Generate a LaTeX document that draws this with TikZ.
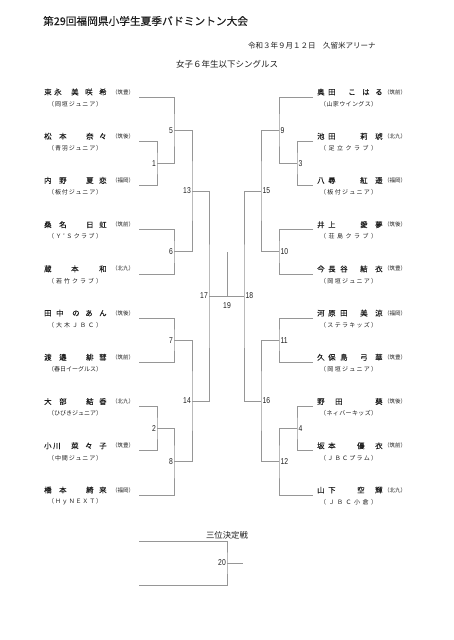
\documentclass[tikz,border=0pt]{standalone}
\usepackage{fontspec}
\setmainfont{Noto Sans CJK JP}
\newfontfamily\namefont{Noto Sans CJK JP}[FakeBold=0.2]
\newfontfamily\numfont{Liberation Sans}
\usepackage{graphicx}
\definecolor{linegray}{RGB}{150,150,150}
\definecolor{txt}{RGB}{30,30,30}
\makeatletter
\def\dist@loop#1#2\dist@end{#1\ifx\relax#2\relax\else\hfill\dist@loop#2\dist@end\fi}
\newcommand\distr[2]{\makebox[#1][s]{\dist@loop#2\dist@end}}
\makeatother
\newcommand\ch[2]{\makebox[0pt][l]{\hspace*{#1pt}#2}}
\tikzset{
  ln/.style={draw=linegray, line width=0.8pt},
  nm/.style={anchor=west, inner sep=0pt, font=\namefont\fontsize{7.4}{8}\selectfont, text=txt},
  aff/.style={anchor=west, inner sep=0pt, font=\fontsize{5.5}{6}\selectfont, text=txt},
  club/.style={anchor=west, inner sep=0pt, font=\fontsize{6}{7}\selectfont, text=txt},
  lblL/.style={anchor=east, inner sep=0pt, xshift=-1pt, font=\numfont\fontsize{8.5}{9}\selectfont, text=txt},
  lblR/.style={anchor=west, inner sep=0pt, xshift=1.5pt, font=\numfont\fontsize{8.5}{9}\selectfont, text=txt},
}
\newcommand\num[1]{\scalebox{0.8}[1]{#1}}
\begin{document}
\begin{tikzpicture}[x=1pt, y=-1pt]
\useasboundingbox (0,0) rectangle (453,640);
\fill[white] (0,0) rectangle (453,640);

% titles
\node[anchor=west, inner sep=0pt, font=\namefont\fontsize{10.7}{12}\selectfont, text=txt] (title) at (43,21) {第29回福岡県小学生夏季バドミントン大会};
\node[anchor=west, inner sep=0pt, font=\fontsize{7.5}{8}\selectfont, text=txt] (date) at (248,46) {令和３年９月１２日　久留米アリーナ};
\node[inner sep=0pt, font=\fontsize{8.5}{9}\selectfont, text=txt] (event) at (227,64) {女子６年生以下シングルス};

% y positions
\def\yA{97}\def\yB{141.2}\def\yC{185.4}\def\yD{229.7}\def\yE{273.9}
\def\yF{318.1}\def\yG{362.3}\def\yH{406.5}\def\yI{450.8}\def\yJ{495}
\def\mA{163.3}\def\mE{130.15}\def\mF{251.8}\def\mM{190.98}
\def\mG{340.2}\def\mB{428.65}\def\mH{461.8}\def\mN{401}\def\mQ{296}

% left player line ends
\coordinate (L1) at (139,\yA); \coordinate (L2) at (139,\yB); \coordinate (L3) at (139,\yC);
\coordinate (L4) at (139,\yD); \coordinate (L5) at (139,\yE); \coordinate (L6) at (139,\yF);
\coordinate (L7) at (139,\yG); \coordinate (L8) at (139,\yH); \coordinate (L9) at (139,\yI);
\coordinate (L10) at (139,\yJ);
% right player line ends
\coordinate (R1) at (313,\yA); \coordinate (R2) at (313,\yB); \coordinate (R3) at (313,\yC);
\coordinate (R4) at (313,\yD); \coordinate (R5) at (313,\yE); \coordinate (R6) at (313,\yF);
\coordinate (R7) at (313,\yG); \coordinate (R8) at (313,\yH); \coordinate (R9) at (313,\yI);
\coordinate (R10) at (313,\yJ);

% left junctions
\coordinate (J1) at (157,\mA); \coordinate (J2) at (157,\mB);
\coordinate (J5) at (174,\mE); \coordinate (J6) at (174,\mF);
\coordinate (J7) at (174,\mG); \coordinate (J8) at (174,\mH);
\coordinate (J13) at (192,\mM); \coordinate (J14) at (192,\mN);
\coordinate (J17) at (209,\mQ);
% right junctions
\coordinate (J3) at (297,\mA); \coordinate (J4) at (297,\mB);
\coordinate (J9) at (279,\mE); \coordinate (J10) at (279,\mF);
\coordinate (J11) at (279,\mG); \coordinate (J12) at (279,\mH);
\coordinate (J15) at (261,\mM); \coordinate (J16) at (261,\mN);
\coordinate (J18) at (244,\mQ);
% final
\coordinate (J19) at (227,\mQ); \coordinate (W19) at (227,252);

% left bracket
\draw[ln] (L2) -| (J1) |- (L3);
\draw[ln] (L1) -| (J5) |- (J1);
\draw[ln] (L4) -| (J6) |- (L5);
\draw[ln] (J5) -| (J13) |- (J6);
\draw[ln] (L6) -| (J7) |- (L7);
\draw[ln] (L8) -| (J2) |- (L9);
\draw[ln] (J2) -| (J8) |- (L10);
\draw[ln] (J7) -| (J14) |- (J8);
\draw[ln] (J13) -| (J17) |- (J14);
% right bracket
\draw[ln] (R2) -| (J3) |- (R3);
\draw[ln] (R1) -| (J9) |- (J3);
\draw[ln] (R4) -| (J10) |- (R5);
\draw[ln] (J9) -| (J15) |- (J10);
\draw[ln] (R6) -| (J11) |- (R7);
\draw[ln] (R8) -| (J4) |- (R9);
\draw[ln] (J4) -| (J12) |- (R10);
\draw[ln] (J11) -| (J16) |- (J12);
\draw[ln] (J15) -| (J18) |- (J16);
% final
\draw[ln] (J17) -- (J18);
\draw[ln] (J19) -- (W19);

% match labels
\node[lblL] (n1) at (J1) {\num{1}};
\node[lblL] (n2) at (J2) {\num{2}};
\node[lblL] (n5) at (J5) {\num{5}};
\node[lblL] (n6) at (J6) {\num{6}};
\node[lblL] (n7) at (J7) {\num{7}};
\node[lblL] (n8) at (J8) {\num{8}};
\node[lblL] (n13) at (J13) {\num{13}};
\node[lblL] (n14) at (J14) {\num{14}};
\node[lblL] (n17) at (J17) {\num{17}};
\node[lblR] (n3) at (J3) {\num{3}};
\node[lblR] (n4) at (J4) {\num{4}};
\node[lblR] (n9) at (J9) {\num{9}};
\node[lblR] (n10) at (J10) {\num{10}};
\node[lblR] (n11) at (J11) {\num{11}};
\node[lblR] (n12) at (J12) {\num{12}};
\node[lblR] (n15) at (J15) {\num{15}};
\node[lblR] (n16) at (J16) {\num{16}};
\node[lblR] (n18) at (J18) {\num{18}};
\node[inner sep=0pt, font=\numfont\fontsize{8.5}{9}\selectfont, text=txt] (n19) at (227,305.5) {\num{19}};

% left players
\node[nm] (p1) at (44,\yA-5) {\ch{0}{束}\ch{10}{永}\ch{27}{美}\ch{41}{咲}\ch{55}{希}\hspace*{62pt}};
\node[aff] (a1) at (112,\yA-5) {（筑豊）};
\node[club] (c1) at (48,\yA+7) {\distr{54pt}{（岡垣ジュニア）}};

\node[nm] (p2) at (44,\yB-5) {\ch{0}{松}\ch{15}{本}\ch{42}{奈}\ch{55}{々}\hspace*{62pt}};
\node[aff] (a2) at (112,\yB-5) {（筑後）};
\node[club] (c2) at (48,\yB+7) {\distr{54pt}{（青羽ジュニア）}};

\node[nm] (p3) at (44,\yC-5) {\ch{0}{内}\ch{15}{野}\ch{42}{夏}\ch{55}{恋}\hspace*{62pt}};
\node[aff] (a3) at (112,\yC-5) {（福岡）};
\node[club] (c3) at (48,\yC+7) {\distr{54pt}{（板付ジュニア）}};

\node[nm] (p4) at (44,\yD-5) {\ch{0}{桑}\ch{15}{名}\ch{42}{日}\ch{55}{虹}\hspace*{62pt}};
\node[aff] (a4) at (112,\yD-5) {（筑前）};
\node[club] (c4) at (48,\yD+7) {\distr{54pt}{（Ｙ’Ｓクラブ）}};

\node[nm] (p5) at (44,\yE-5) {\ch{0}{蔵}\ch{27}{本}\ch{55}{和}\hspace*{62pt}};
\node[aff] (a5) at (112,\yE-5) {（北九）};
\node[club] (c5) at (48,\yE+7) {\distr{54pt}{（若竹クラブ）}};

\node[nm] (p6) at (44,\yF-5) {\ch{0}{田}\ch{12}{中}\ch{28}{の}\ch{41}{あ}\ch{55}{ん}\hspace*{62pt}};
\node[aff] (a6) at (112,\yF-5) {（筑後）};
\node[club] (c6) at (48,\yF+7) {\distr{54pt}{（大木ＪＢＣ）}};

\node[nm] (p7) at (44,\yG-5) {\ch{0}{渡}\ch{15}{邉}\ch{42}{緋}\ch{55}{彗}\hspace*{62pt}};
\node[aff] (a7) at (112,\yG-5) {（筑前）};
\node[club] (c7) at (48,\yG+7) {\distr{54pt}{（春日イーグルス）}};

\node[nm] (p8) at (44,\yH-5) {\ch{0}{大}\ch{15}{部}\ch{42}{結}\ch{55}{香}\hspace*{62pt}};
\node[aff] (a8) at (112,\yH-5) {（北九）};
\node[club] (c8) at (48,\yH+7) {\distr{54pt}{（ひびきジュニア）}};

\node[nm] (p9) at (44,\yI-5) {\ch{0}{小}\ch{9}{川}\ch{27}{菜}\ch{41}{々}\ch{55}{子}\hspace*{62pt}};
\node[aff] (a9) at (112,\yI-5) {（筑豊）};
\node[club] (c9) at (48,\yI+7) {\distr{54pt}{（中間ジュニア）}};

\node[nm] (p10) at (44,\yJ-5) {\ch{0}{橋}\ch{15}{本}\ch{42}{綺}\ch{55}{来}\hspace*{62pt}};
\node[aff] (a10) at (112,\yJ-5) {（福岡）};
\node[club] (c10) at (48,\yJ+7) {\distr{54pt}{（ＨｙＮＥＸＴ）}};

% right players
\node[nm] (q1) at (317,\yA-5) {\ch{0}{奥}\ch{11}{田}\ch{31}{こ}\ch{45}{は}\ch{58}{る}\hspace*{65pt}};
\node[aff] (b1) at (384,\yA-5) {（筑前）};
\node[club] (d1) at (320,\yA+7) {\distr{57pt}{（山家ウイングス）}};

\node[nm] (q2) at (317,\yB-5) {\ch{0}{池}\ch{11}{田}\ch{43}{莉}\ch{58}{琥}\hspace*{65pt}};
\node[aff] (b2) at (384,\yB-5) {（北九）};
\node[club] (d2) at (320,\yB+7) {\distr{57pt}{（足立クラブ）}};

\node[nm] (q3) at (317,\yC-5) {\ch{0}{八}\ch{11}{尋}\ch{43}{紅}\ch{58}{遥}\hspace*{65pt}};
\node[aff] (b3) at (384,\yC-5) {（福岡）};
\node[club] (d3) at (320,\yC+7) {\distr{57pt}{（板付ジュニア）}};

\node[nm] (q4) at (317,\yD-5) {\ch{0}{井}\ch{11}{上}\ch{43}{愛}\ch{58}{夢}\hspace*{65pt}};
\node[aff] (b4) at (384,\yD-5) {（筑後）};
\node[club] (d4) at (320,\yD+7) {\distr{57pt}{（荘島クラブ）}};

\node[nm] (q5) at (317,\yE-5) {\ch{0}{今}\ch{11}{長}\ch{23}{谷}\ch{43}{結}\ch{58}{衣}\hspace*{65pt}};
\node[aff] (b5) at (384,\yE-5) {（筑豊）};
\node[club] (d5) at (320,\yE+7) {\distr{57pt}{（岡垣ジュニア）}};

\node[nm] (q6) at (317,\yF-5) {\ch{0}{河}\ch{11}{原}\ch{23}{田}\ch{43}{美}\ch{58}{涼}\hspace*{65pt}};
\node[aff] (b6) at (384,\yF-5) {（福岡）};
\node[club] (d6) at (320,\yF+7) {\distr{57pt}{（ステラキッズ）}};

\node[nm] (q7) at (317,\yG-5) {\ch{0}{久}\ch{11}{保}\ch{23}{島}\ch{43}{弓}\ch{58}{華}\hspace*{65pt}};
\node[aff] (b7) at (384,\yG-5) {（筑豊）};
\node[club] (d7) at (320,\yG+7) {\distr{57pt}{（岡垣ジュニア）}};

\node[nm] (q8) at (317,\yH-5) {\ch{0}{野}\ch{18}{田}\ch{58}{葵}\hspace*{65pt}};
\node[aff] (b8) at (384,\yH-5) {（筑後）};
\node[club] (d8) at (320,\yH+7) {\distr{57pt}{（ネィバーキッズ）}};

\node[nm] (q9) at (317,\yI-5) {\ch{0}{坂}\ch{11}{本}\ch{40}{優}\ch{58}{衣}\hspace*{65pt}};
\node[aff] (b9) at (384,\yI-5) {（筑前）};
\node[club] (d9) at (320,\yI+7) {\distr{57pt}{（ＪＢＣプラム）}};

\node[nm] (q10) at (317,\yJ-5) {\ch{0}{山}\ch{11}{下}\ch{40}{空}\ch{58}{輝}\hspace*{65pt}};
\node[aff] (b10) at (384,\yJ-5) {（北九）};
\node[club] (d10) at (320,\yJ+7) {\distr{57pt}{（ＪＢＣ小倉）}};

% third place
\node[inner sep=0pt, font=\fontsize{8.4}{9}\selectfont, text=txt] (third) at (227,535) {三位決定戦};
\coordinate (T1) at (139,541); \coordinate (T2) at (139,585);
\coordinate (J20) at (227,563); \coordinate (W20) at (243,563);
\draw[ln] (T1) -| (J20) |- (T2);
\draw[ln] (J20) -- (W20);
\node[lblL] (n20) at (J20) {\num{20}};
\end{tikzpicture}
\end{document}
